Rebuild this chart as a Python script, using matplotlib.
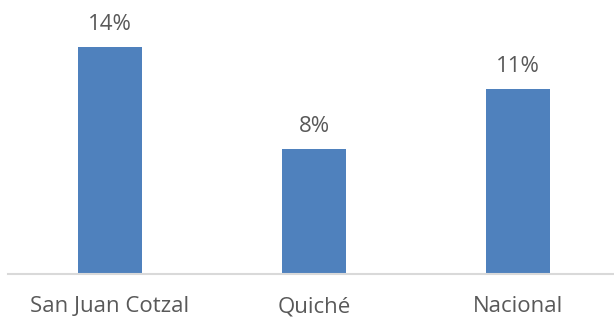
import matplotlib
matplotlib.use("Agg")
import matplotlib.pyplot as plt

categorias = ["San Juan Cotzal", "Quiché", "Nacional"]
valores = [14.0, 7.7, 11.4]
etiquetas = ["14%", "8%", "11%"]

plt.rcParams['font.family'] = ['Open Sans', 'DejaVu Sans']

fig = plt.figure(figsize=(6.14, 3.26), dpi=100)
ax = fig.add_axes([8 / 614, 52 / 326, 606 / 614, 274 / 326])

x = range(len(categorias))
bars = ax.bar(x, valores, width=0.31, color="#4f81bd", zorder=2)
for b, t in zip(bars, etiquetas):
    ax.annotate(t, (b.get_x() + b.get_width() / 2, b.get_height()),
                xytext=(0, 9), textcoords="offset points",
                ha="center", va="bottom", fontsize=16, color="#595959")

ax.set_xlim(-0.5, 2.47)
ax.set_ylim(0, 16.9)
ax.set_xticks(list(x))
ax.set_xticklabels(categorias, fontsize=16, color="#595959")
ax.tick_params(axis="x", length=0, pad=16)
ax.set_yticks([])
for s in ["top", "right", "left"]:
    ax.spines[s].set_visible(False)
ax.spines["bottom"].set_color("#d9d9d9")
ax.spines["bottom"].set_linewidth(1.5)

fig.savefig("out.png", dpi=100)
